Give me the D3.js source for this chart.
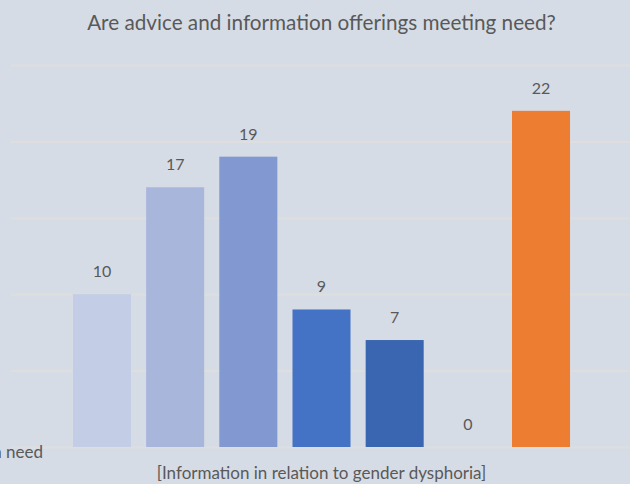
<!DOCTYPE html>
<html>
<head>
<meta charset="utf-8">
<script src="https://cdn.jsdelivr.net/npm/d3@7/dist/d3.min.js"></script>
<style>
  html, body { margin: 0; padding: 0; background: #d6dce5; }
  svg { display: block; }
  text { font-family: Lato, "Open Sans", sans-serif; fill: #595959; }
</style>
</head>
<body>
<svg id="chart" width="630" height="484"></svg>
<script>
// Responses per rating, single category cluster
const title = "Are advice and information offerings meeting need?";
const category = "[Information in relation to gender dysphoria]";
const series = ["Far exceeds need", "Exceeds need", "Meets need", "Partly meets need", "Rarely meets need", "Never meets need", "Don't know"];
const values = [10, 17, 19, 9, 7, 0, 22];
const colors = ["#c3cde6", "#a9b6dc", "#8198d1", "#4472c4", "#3a66b1", "#2f5597", "#ed7d31"];
const yTicks = [0, 5, 10, 15, 20, 25];
const legendVisible = "n need";

const svg = d3.select("#chart");

const plot = { left: 11, right: 632, top: 65, bottom: 447 };

const y = d3.scaleLinear().domain([0, 25]).range([plot.bottom, plot.top]);
const x = d3.scaleBand()
  .domain(series)
  .range([65.4, 577.6])
  .paddingInner(0.207)
  .paddingOuter(0.1035);

// gridlines
const grid = svg.append("g")
  .attr("transform", `translate(${plot.left},0)`)
  .call(d3.axisLeft(y).tickValues(yTicks).tickSize(-(plot.right - plot.left)).tickFormat(""));
grid.select(".domain").remove();
grid.selectAll("line").attr("stroke", "#dedede").attr("stroke-width", 2);

// bars
svg.append("g").selectAll("rect")
  .data(values)
  .join("rect")
  .attr("x", (d, i) => x(series[i]))
  .attr("width", x.bandwidth())
  .attr("y", d => y(d))
  .attr("height", d => y(0) - y(d))
  .attr("fill", (d, i) => colors[i]);

// value labels
svg.append("g").selectAll("text")
  .data(values)
  .join("text")
  .attr("x", (d, i) => x(series[i]) + x.bandwidth() / 2)
  .attr("y", d => y(d) - 17)
  .attr("text-anchor", "middle")
  .attr("font-size", 16)
  .text(d => d);

// title
svg.append("text")
  .attr("x", 321.5)
  .attr("y", 30)
  .attr("text-anchor", "middle")
  .attr("font-size", 20.7)
  .text(title);

// category label
svg.append("text")
  .attr("x", 321.5)
  .attr("y", 479)
  .attr("text-anchor", "middle")
  .attr("font-size", 17)
  .text(category);

// legend fragment at the bottom-left edge
svg.append("text")
  .attr("x", 43)
  .attr("y", 458)
  .attr("text-anchor", "end")
  .attr("font-size", 17)
  .text(legendVisible);
</script>
</body>
</html>
